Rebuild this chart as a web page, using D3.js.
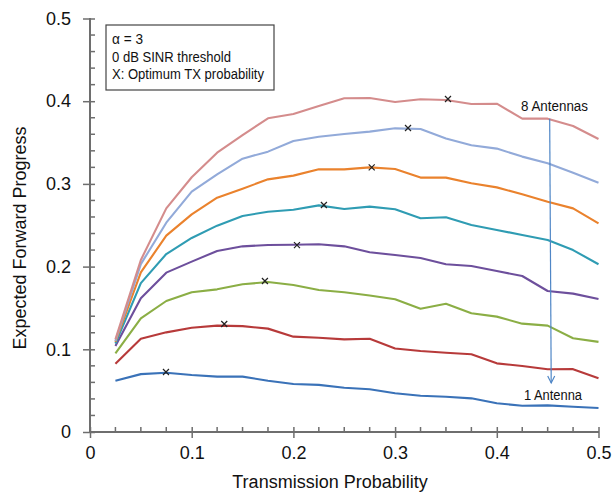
<!DOCTYPE html>
<html><head><meta charset="utf-8">
<script src="https://cdn.jsdelivr.net/npm/d3@7"></script>
<style>body{margin:0;background:#fff;} text{font-family:"Liberation Sans",Arimo,Arial,sans-serif;}</style>
</head><body>
<svg id="c" width="613" height="495"></svg>
<script>
const probs = [0.025,0.05,0.075,0.1,0.125,0.15,0.175,0.2,0.225,0.25,0.275,0.3,0.325,0.35,0.375,0.4,0.425,0.45,0.475,0.5];
const ant1 = [0.062,0.070,0.0717,0.069,0.067,0.067,0.062,0.058,0.057,0.0536,0.0516,0.0468,0.0439,0.0427,0.0407,0.0347,0.0318,0.0322,0.0306,0.029];
const ant2 = [0.0826,0.1128,0.1205,0.126,0.1286,0.128,0.125,0.1153,0.114,0.112,0.1128,0.101,0.098,0.0959,0.094,0.083,0.0798,0.0758,0.076,0.065];
const ant3 = [0.0951,0.1375,0.1584,0.169,0.1725,0.1786,0.1814,0.1778,0.1717,0.169,0.165,0.1605,0.149,0.155,0.1435,0.1395,0.131,0.1286,0.1133,0.109];
const ant4 = [0.104,0.1617,0.1927,0.206,0.2189,0.2245,0.2261,0.2265,0.227,0.2245,0.2173,0.214,0.2104,0.2028,0.2007,0.1947,0.1886,0.1705,0.1673,0.1608];
const ant5 = [0.107,0.18,0.2152,0.2346,0.2495,0.2612,0.2664,0.2688,0.274,0.2697,0.2725,0.2693,0.2584,0.2596,0.2503,0.2443,0.2382,0.2322,0.22,0.2028];
const ant6 = [0.109,0.193,0.2374,0.2632,0.2833,0.2942,0.3055,0.31,0.3176,0.3176,0.32,0.318,0.3076,0.3076,0.3007,0.2958,0.2874,0.2785,0.2704,0.2523];
const ant7 = [0.110,0.203,0.2531,0.2906,0.3116,0.3305,0.339,0.3519,0.3571,0.3603,0.3632,0.3672,0.3664,0.355,0.3467,0.3427,0.333,0.325,0.3136,0.3015];
const ant8 = [0.112,0.208,0.2704,0.308,0.3378,0.359,0.3793,0.3845,0.3942,0.4035,0.4039,0.399,0.4023,0.4015,0.3966,0.397,0.3789,0.3789,0.37,0.3543];
const seriesNames = ["1","2","3","4","5","6","7","8"];
const colors = ["#3a72b8","#b73a3a","#8bae45","#6d4f9c","#2f9cb3","#ea822d","#92aad9","#d48c8c"];
const optX = [0.0747,0.132,0.172,0.2035,0.230,0.277,0.3127,0.352];
const optY = [0.0725,0.1306,0.1826,0.226,0.2745,0.320,0.3676,0.4027];
const xTicks = [0,0.1,0.2,0.3,0.4,0.5];
const yTicks = [0,0.1,0.2,0.3,0.4,0.5];
const legendLines = ["α = 3","0 dB SINR threshold","X: Optimum TX probability"];

const series = [ant1,ant2,ant3,ant4,ant5,ant6,ant7,ant8];
const svg = d3.select("#c");
const x = d3.scaleLinear().domain([0,0.5]).range([90,598.5]);
const y = d3.scaleLinear().domain([0,0.5]).range([432,18.5]);
const axCol = "#6e6e6e";

// fit narrow-looking text to a target width
function fit(sel, w){ sel.attr("textLength",w).attr("lengthAdjust","spacingAndGlyphs"); }

const xMinor = d3.range(0,0.5001,0.025).filter(v=>Math.abs(v*10-Math.round(v*10))>1e-6);
const yMinor = d3.range(0,0.5001,0.02).filter(v=>Math.abs(v*10-Math.round(v*10))>1e-6);

const gx = svg.append("g").attr("transform","translate(0,432)");
gx.call(d3.axisBottom(x).tickValues(xTicks).tickSize(6).tickPadding(16).tickFormat(d=>d===0?"0":d3.format(".1f")(d)));
gx.select(".domain").attr("stroke",axCol).attr("stroke-width",2).attr("d","M90,0H599");
gx.selectAll(".tick line").attr("stroke",axCol).attr("stroke-width",1.5).attr("y1",-5).attr("y2",6);
gx.selectAll(".tick text").attr("fill","#111").style("font-size","18px").attr("dy","0.3em");
gx.append("g").selectAll("line").data(xMinor).join("line")
  .attr("x1",d=>x(d)).attr("x2",d=>x(d)).attr("y1",-5).attr("y2",0).attr("stroke",axCol).attr("stroke-width",1.5);

const gy = svg.append("g").attr("transform","translate(90,0)");
gy.call(d3.axisLeft(y).tickValues(yTicks).tickSize(6).tickPadding(13).tickFormat(d=>d===0?"0":d3.format(".1f")(d)));
gy.select(".domain").attr("stroke",axCol).attr("stroke-width",2).attr("d","M0,18H0V433");
gy.selectAll(".tick line").attr("stroke",axCol).attr("stroke-width",1.5).attr("x1",5).attr("x2",-7);
gy.selectAll(".tick text").attr("fill","#111").style("font-size","18px");
gy.append("g").selectAll("line").data(yMinor).join("line")
  .attr("y1",d=>y(d)).attr("y2",d=>y(d)).attr("x1",0).attr("x2",5).attr("stroke",axCol).attr("stroke-width",1.5);

const line = d3.line().x((d,i)=>x(probs[i])).y(d=>y(d));
svg.append("g").selectAll("path").data(series).join("path")
  .attr("d",line).attr("fill","none").attr("stroke",(d,i)=>colors[i]).attr("stroke-width",2.1).attr("stroke-linejoin","round");

const mk = svg.append("g");
optX.forEach((v,i)=>{
  const cx=x(v), cy=y(optY[i]), s=3;
  mk.append("path").attr("d",`M${cx-s},${cy-s}L${cx+s},${cy+s}M${cx-s},${cy+s}L${cx+s},${cy-s}`)
    .attr("stroke","#222").attr("stroke-width",1.2).attr("fill","none");
});

svg.append("rect").attr("x",106).attr("y",25).attr("width",168).attr("height",65)
  .attr("fill","#fff").attr("stroke","#444").attr("stroke-width",1.2);
const legW = [31,119,152];
svg.append("g").selectAll("text").data(legendLines).join("text")
  .attr("x",112).attr("y",(d,i)=>44+i*17.5).style("font-size","14px").attr("fill","#111").text(d=>d)
  .each(function(d,i){ fit(d3.select(this), legW[i]); });

const ax0 = x(0.452), ax1 = x(0.4535);
svg.append("line").attr("x1",ax0).attr("y1",y(0.3789)).attr("x2",ax1).attr("y2",383)
  .attr("stroke","#4f86c6").attr("stroke-width",1.2);
svg.append("path").attr("d",`M${ax1-3.5},${376}L${ax1},${383}L${ax1+3.5},${376}`)
  .attr("stroke","#4f86c6").attr("stroke-width",1.2).attr("fill","none");
fit(svg.append("text").attr("x",521).attr("y",110.5).style("font-size","14px").attr("fill","#111").text("8 Antennas"), 67);
fit(svg.append("text").attr("x",524).attr("y",399.5).style("font-size","14px").attr("fill","#111").text("1 Antenna"), 58);

svg.append("text").attr("x",330).attr("y",488).attr("text-anchor","middle").style("font-size","18px").attr("fill","#111").text("Transmission Probability");
svg.append("text").attr("transform","translate(26,238) rotate(-90)").attr("text-anchor","middle").style("font-size","18px").attr("fill","#111").text("Expected Forward Progress");
</script>
</body></html>
